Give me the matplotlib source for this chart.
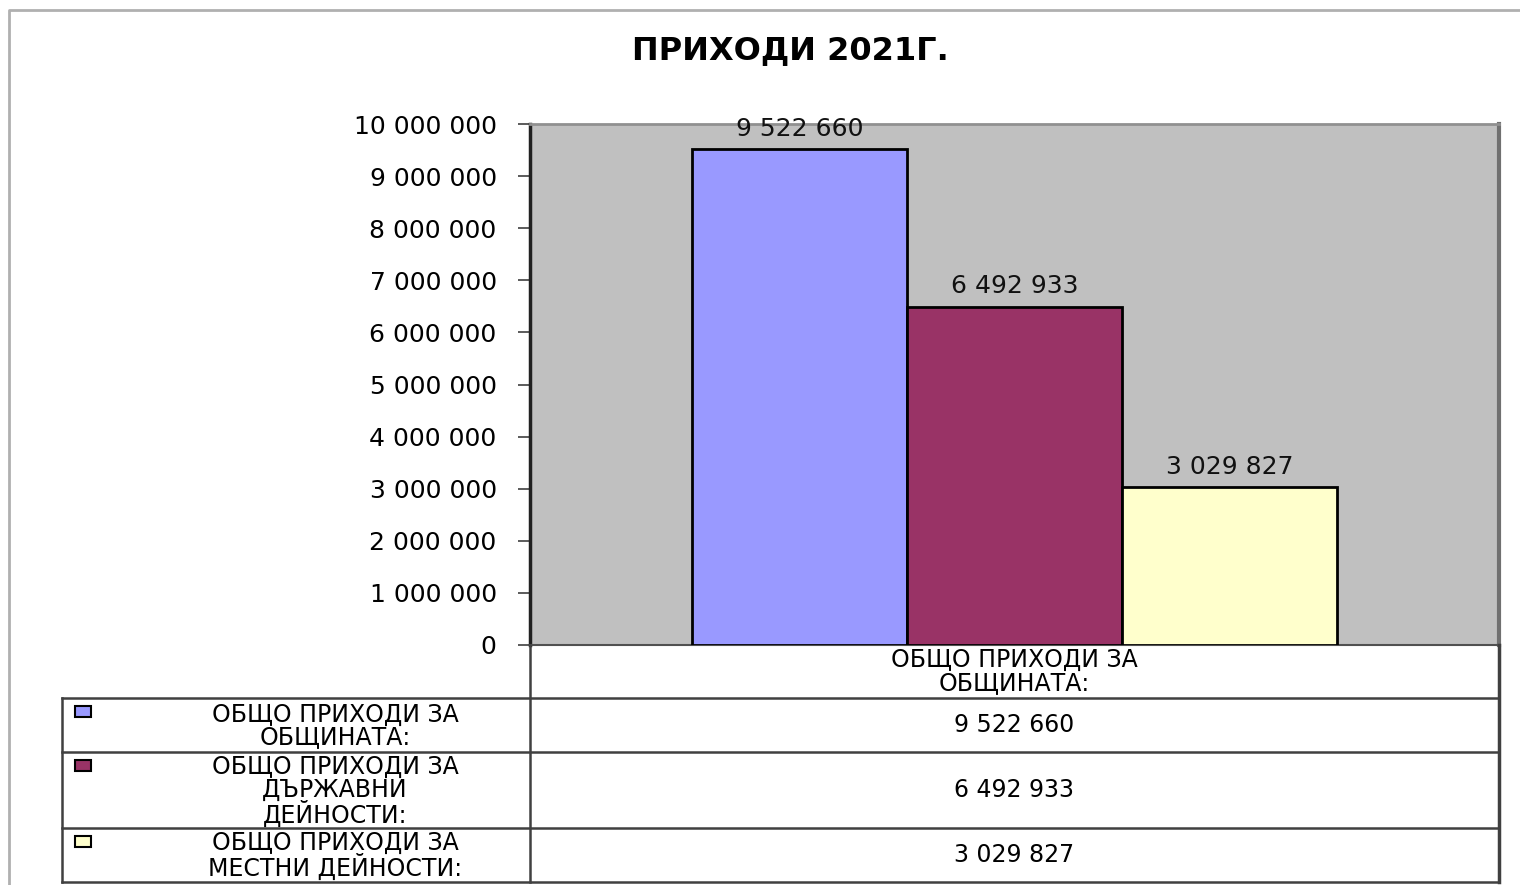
import matplotlib
matplotlib.use("Agg")
import matplotlib.pyplot as plt
from matplotlib.patches import Rectangle
from matplotlib.ticker import FuncFormatter, MultipleLocator

plt.rcParams["font.family"] = ["DejaVu Sans"]

# data
title = "ПРИХОДИ 2021Г."
category = "ОБЩО ПРИХОДИ ЗА\nОБЩИНАТА:"
series = ["ОБЩО ПРИХОДИ ЗА\nОБЩИНАТА:",
          "ОБЩО ПРИХОДИ ЗА\nДЪРЖАВНИ\nДЕЙНОСТИ:",
          "ОБЩО ПРИХОДИ ЗА\nМЕСТНИ ДЕЙНОСТИ:"]
values = [9522660, 6492933, 3029827]
colors = ["#9999FF", "#993366", "#FFFFCC"]

W, H = 1520, 885


def fmt(v, _=None):
    return f"{int(v):,}".replace(",", " ")


fig = plt.figure(figsize=(W / 100, H / 100), dpi=100, facecolor="white")

# plot area in pixels: x 530..1499, y 124..645
px_l, px_r, px_t, px_b = 530, 1499, 124, 645
ax = fig.add_axes([px_l / W, 1 - px_b / H, (px_r - px_l) / W, (px_b - px_t) / H])
ax.set_facecolor("#C0C0C0")
bw = 0.222
offs = [-bw, 0, bw]
for v, c, o in zip(values, colors, offs):
    ax.bar(o, v, width=bw, color=c, edgecolor="black", linewidth=2, zorder=3)
    ax.annotate(fmt(v), (o, v), xytext=(0, 6), textcoords="offset points",
                ha="center", va="bottom", fontsize=18, color="#111111", zorder=4)
ax.set_xlim(-0.5, 0.5)
ax.set_ylim(0, 10000000)
ax.yaxis.set_major_locator(MultipleLocator(1000000))
ax.yaxis.set_major_formatter(FuncFormatter(fmt))
ax.set_xticks([])
ax.tick_params(axis="y", direction="out", length=9, width=1.2, color="#404040",
               pad=15, labelsize=18)
ax.spines["left"].set_color("#202020"); ax.spines["left"].set_linewidth(2.5)
ax.spines["top"].set_color("#909090"); ax.spines["top"].set_linewidth(2)
ax.spines["right"].set_color("#707070"); ax.spines["right"].set_linewidth(3)
ax.spines["bottom"].set_color("#505050"); ax.spines["bottom"].set_linewidth(1.5)

# overlay in pixel coords for title, frame and data table
ov = fig.add_axes([0, 0, 1, 1], zorder=5)
ov.set_xlim(0, W); ov.set_ylim(H, 0); ov.axis("off")

ov.plot([9, 9, W], [H, 10, 10], color="#B0B0B0", lw=2)
ov.text(790, 51, title, ha="center", va="center", fontsize=23, fontweight="bold")

lc, lw = "#404040", 1.8
tab_l, col_x, tab_r = 62, px_l, px_r
row_edges = [698, 752, 828, 882]
ov.plot([col_x, col_x], [px_b, row_edges[-1]], color=lc, lw=lw)
ov.plot([tab_r, tab_r], [px_b, row_edges[-1]], color=lc, lw=2.5)
ov.plot([tab_l, tab_l], [row_edges[0], row_edges[-1]], color=lc, lw=lw)
for y in row_edges:
    ov.plot([tab_l, tab_r], [y, y], color=lc, lw=lw)
val_x = (col_x + tab_r) / 2
ov.text(val_x, (px_b + row_edges[0]) / 2, category, ha="center", va="center",
        fontsize=17, linespacing=0.95)
for i, (lab, v, c) in enumerate(zip(series, values, colors)):
    top, bot = row_edges[i], row_edges[i + 1]
    ym = (top + bot) / 2
    ov.text(val_x, ym, fmt(v), ha="center", va="center", fontsize=17)
    ov.text(335, ym + 1, lab, ha="center", va="center", fontsize=17, linespacing=0.95,
            multialignment="center")
    ov.add_patch(Rectangle((75, top + 8), 16, 11, facecolor=c, edgecolor="black", lw=1.5))

fig.savefig("out.png", dpi=100, facecolor="white")
